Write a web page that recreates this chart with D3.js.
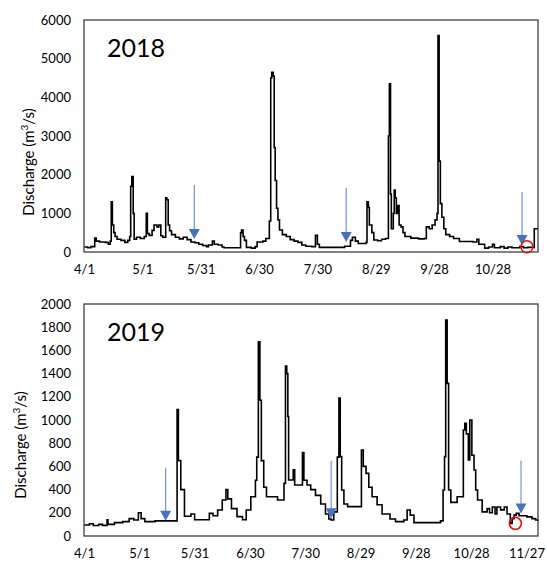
<!DOCTYPE html>
<html>
<head>
<meta charset="utf-8">
<script src="https://cdn.jsdelivr.net/npm/d3@7"></script>
<style>
    body { margin: 0; background: #fff; }
    svg { display: block; font-family: Lato, "Open Sans", sans-serif; }
</style>
</head>
<body>
<svg id="chart" width="547" height="562"></svg>
<script>
// 2018 discharge (m3/s), "month/day hour"
var dates2018 = ["4/1 0", "4/3 0", "4/4 12", "4/6 12", "4/7 7", "4/9 0", "4/12 0", "4/13 12", "4/14 12", "4/15 0",
    "4/15 14", "4/16 7", "4/17 0", "4/18 0", "4/20 0", "4/22 0", "4/23 12", "4/24 12", "4/25 0", "4/25 14",
    "4/26 7", "4/26 19", "4/28 0", "4/30 0", "5/2 0", "5/3 0", "5/3 14", "5/4 12", "5/6 0", "5/7 0",
    "5/8 12", "5/9 12", "5/10 12", "5/11 12", "5/13 0", "5/13 14", "5/14 7", "5/15 0", "5/16 0", "5/18 0",
    "5/20 0", "5/22 0", "5/24 0", "5/26 0", "5/28 0", "5/30 0", "6/1 0", "6/3 0", "6/4 0", "6/6 0",
    "6/7 0", "6/9 0", "6/11 0", "6/12 0", "6/20 12", "6/21 0", "6/21 19", "6/22 12", "6/23 12", "6/26 0",
    "6/28 0", "6/29 0", "7/2 0", "7/3 12", "7/5 7", "7/6 0", "7/6 12", "7/7 7", "7/7 19", "7/8 7",
    "7/9 0", "7/9 17", "7/10 12", "7/12 0", "7/14 0", "7/16 0", "7/18 0", "7/20 0", "7/22 0", "7/24 0",
    "7/27 0", "7/29 0", "7/30 0", "7/31 0", "8/13 0", "8/16 0", "8/17 0", "8/18 12", "8/20 0", "8/24 0",
    "8/24 12", "8/25 5", "8/25 17", "8/27 0", "8/28 0", "8/30 0", "9/1 0", "9/3 0", "9/4 12", "9/5 0",
    "9/5 14", "9/6 0", "9/7 0", "9/7 12", "9/8 0", "9/8 14", "9/9 7", "9/10 0", "9/11 0", "9/12 0",
    "9/13 0", "9/16 0", "9/20 0", "9/23 0", "9/24 0", "9/25 12", "9/27 0", "9/28 12", "9/29 12", "9/30 0",
    "9/30 14", "10/1 5", "10/2 0", "10/3 0", "10/4 0", "10/6 0", "10/8 0", "10/11 0", "10/18 0", "10/20 0",
    "10/21 0", "10/24 0", "10/26 0", "10/28 0", "10/29 0", "11/1 0", "11/3 0", "11/5 0", "11/7 0", "11/11 0",
    "11/13 0", "11/15 0", "11/18 12", "11/20 10"];
var flow2018 = [130, 110, 140, 360, 280, 260, 250, 200, 280, 1300,
    700, 500, 400, 330, 300, 250, 300, 400, 1700, 1950,
    1000, 330, 380, 350, 400, 1000, 480, 430, 560, 700,
    650, 700, 420, 380, 1400, 1350, 700, 550, 450, 380,
    340, 380, 320, 260, 240, 200, 170, 140, 180, 280,
    200, 180, 130, 110, 500, 570, 400, 300, 120, 100,
    140, 260, 280, 350, 800, 4500, 4650, 4550, 2700, 1850,
    1130, 830, 570, 450, 400, 320, 280, 250, 180, 150,
    140, 430, 200, 120, 150, 300, 380, 280, 220, 250,
    1300, 1150, 700, 500, 310, 290, 330, 350, 3000, 4350,
    1500, 600, 1000, 1600, 1400, 1000, 1200, 700, 650, 500,
    400, 360, 340, 350, 650, 600, 700, 830, 1000, 5600,
    2350, 1250, 900, 600, 450, 400, 350, 270, 260, 330,
    200, 100, 130, 200, 110, 140, 100, 130, 110, 140,
    110, 120, 600, 600];

// 2019 discharge
var dates2019 = ["4/1 0", "4/4 0", "4/6 0", "4/9 0", "4/11 0", "4/13 12", "4/14 0", "4/17 12", "4/22 0", "4/25 12",
    "4/28 0", "4/30 12", "5/2 0", "5/4 0", "5/9 12", "5/21 12", "5/22 5", "5/23 12", "5/25 12", "5/29 0",
    "5/31 0", "6/8 0", "6/10 0", "6/12 12", "6/15 0", "6/17 0", "6/18 0", "6/20 0", "6/23 0", "6/26 0",
    "6/28 0", "6/30 12", "7/3 0", "7/3 17", "7/4 14", "7/5 10", "7/6 5", "7/7 12", "7/9 0", "7/15 0",
    "7/18 12", "7/19 7", "7/20 0", "7/20 14", "7/21 0", "7/23 12", "7/24 7", "7/28 12", "7/29 7", "7/31 0",
    "8/2 0", "8/4 14", "8/7 10", "8/10 0", "8/11 19", "8/13 0", "8/14 12", "8/16 10", "8/17 7", "8/18 0",
    "8/18 19", "8/20 0", "8/22 0", "8/29 12", "8/30 12", "9/1 0", "9/2 12", "9/4 7", "9/7 0", "9/9 17",
    "9/14 0", "9/17 0", "9/21 12", "9/23 7", "9/25 0", "9/27 0", "10/11 10", "10/12 19", "10/13 14", "10/14 5",
    "10/15 0", "10/15 19", "10/17 0", "10/20 10", "10/23 19", "10/24 14", "10/25 10", "10/26 12", "10/27 7", "10/28 10",
    "10/29 14", "10/30 12", "10/31 12", "11/3 0", "11/5 17", "11/7 0", "11/8 12", "11/10 0", "11/11 0", "11/13 0",
    "11/15 0", "11/16 12", "11/18 7", "11/19 7", "11/20 7", "11/21 12", "11/23 0", "11/27 7", "11/30 0", "12/2 0",
    "12/3 7"];
var flow2019 = [95, 105, 90, 100, 92, 140, 100, 115, 124, 150,
    138, 200, 150, 124, 130, 1090, 650, 400, 170, 190,
    140, 195, 175, 224, 310, 400, 320, 236, 167, 140,
    224, 339, 480, 680, 1675, 1170, 650, 420, 339, 310,
    454, 1465, 1400, 1030, 483, 570, 440, 720, 480, 440,
    400, 350, 276, 190, 147, 138, 208, 680, 1190, 684,
    397, 276, 253, 741, 600, 540, 420, 339, 270, 190,
    147, 124, 138, 224, 180, 115, 130, 397, 684, 1862,
    1316, 397, 290, 339, 914, 971, 880, 656, 1000, 696,
    569, 397, 310, 208, 236, 200, 250, 190, 250, 225,
    250, 190, 109, 150, 180, 195, 175, 165, 150, 138,
    130];

var ticks2018 = ["4/1", "5/1", "5/31", "6/30", "7/30", "8/29", "9/28", "10/28"];
var ticks2019 = ["4/1", "5/1", "5/31", "6/30", "7/30", "8/29", "9/28", "10/28", "11/27"];

// blue arrows: date, value at the tip, value at the tail
var arrowDates2018 = ["5/27 17", "8/13 19", "11/12 5"];
var arrowTips2018 = [336, 259, 181];
var arrowTails2018 = [1733, 1655, 1552];
var arrowDates2019 = ["5/15 7", "8/13 2", "11/24 2"];
var arrowTips2019 = [132, 152, 195];
var arrowTails2019 = [589, 649, 649];

// red circles
var circleDate2018 = "11/14 17", circleFlow2018 = 137;
var circleDate2019 = "11/21 0", circleFlow2019 = 109;

var svg = d3.select("#chart");

function drawPanel(opt) {
    var parse = d3.timeParse("%Y/%m/%d %H");
    var parseDay = d3.timeParse("%Y/%m/%d");
    var data = opt.dates.map(function (d, i) {
        return { date: parse(opt.year + "/" + d), q: opt.flow[i] };
    });

    var x = d3.scaleTime()
        .domain([parseDay(opt.year + "/4/1"), parse(opt.year + "/" + opt.dates[opt.dates.length - 1])])
        .range([opt.left, opt.right]);

    var y = d3.scaleLinear()
        .domain([0, opt.yMax])
        .range([opt.bottom, opt.top]);

    var g = svg.append("g");

    // y ticks
    var ya = g.append("g")
        .attr("transform", "translate(" + 71 + ",0)")
        .call(d3.axisLeft(y)
            .tickValues(d3.range(0, opt.yMax + 1, opt.yStep))
            .tickFormat(d3.format("d"))
            .tickSize(0)
            .tickPadding(0));
    ya.select(".domain").remove();
    ya.selectAll("text").attr("fill", "#000").style("font-size", "13px").style("font-family", "Lato, sans-serif");

    // x ticks
    var xa = g.append("g")
        .attr("transform", "translate(0," + opt.bottom + ")")
        .call(d3.axisBottom(x)
            .tickValues(opt.ticks.map(function (t) { return parseDay(opt.year + "/" + t); }))
            .tickFormat(d3.timeFormat("%-m/%-d"))
            .tickSize(0)
            .tickPadding(13));
    xa.select(".domain").remove();
    xa.selectAll("text").attr("fill", "#000").style("font-size", "13px").style("font-family", "Lato, sans-serif");

    // line
    var line = d3.line()
        .curve(d3.curveStepAfter)
        .x(function (d) { return x(d.date); })
        .y(function (d) { return y(d.q); });

    g.append("path")
        .datum(data)
        .attr("fill", "none")
        .attr("stroke", "#000")
        .attr("stroke-width", 1.6)
        .attr("d", line);

    // plot frame
    g.append("rect")
        .attr("x", opt.left)
        .attr("y", opt.top)
        .attr("width", opt.right - opt.left)
        .attr("height", opt.bottom - opt.top)
        .attr("fill", "none")
        .attr("stroke", "#404040")
        .attr("stroke-width", 1.3);

    // year label
    g.append("text")
        .attr("x", 107)
        .attr("y", opt.top + 37)
        .style("font-size", "25px")
        .attr("fill", "#000")
        .text(opt.year);

    // axis title
    var t = g.append("text")
        .attr("transform", "translate(" + opt.titleX + "," + opt.titleY + ") rotate(-90)")
        .attr("text-anchor", "middle")
        .style("font-size", "15px")
        .attr("fill", "#000");
    t.append("tspan").text("Discharge (m");
    t.append("tspan").attr("dy", -6).style("font-size", "10px").text("3");
    t.append("tspan").attr("dy", 6).text("/s)");

    // arrows
    opt.arrowDates.forEach(function (d, i) {
        var ax = x(parse(opt.year + "/" + d)),
            tip = y(opt.arrowTips[i]),
            tail = y(opt.arrowTails[i]);
        g.append("line")
            .attr("x1", ax).attr("x2", ax)
            .attr("y1", tail).attr("y2", tip - 9)
            .attr("stroke", "#7096d6")
            .attr("stroke-width", 1.2);
        g.append("path")
            .attr("d", "M" + (ax - 5.5) + "," + (tip - 10) + "L" + (ax + 5.5) + "," + (tip - 10) + "L" + ax + "," + tip + "Z")
            .attr("fill", "#4472c4");
    });

    // red circle
    g.append("circle")
        .attr("cx", x(parse(opt.year + "/" + opt.circleDate)))
        .attr("cy", y(opt.circleFlow))
        .attr("r", 6)
        .attr("fill", "none")
        .attr("stroke", "#ff0000")
        .attr("stroke-width", 1.5);
}

drawPanel({
    year: 2018, dates: dates2018, flow: flow2018, ticks: ticks2018,
    yMax: 6000, yStep: 1000,
    left: 84, right: 538, top: 20, bottom: 252,
    titleX: 34, titleY: 162,
    arrowDates: arrowDates2018, arrowTips: arrowTips2018, arrowTails: arrowTails2018,
    circleDate: circleDate2018, circleFlow: circleFlow2018
});

drawPanel({
    year: 2019, dates: dates2019, flow: flow2019, ticks: ticks2019,
    yMax: 2000, yStep: 200,
    left: 84, right: 538, top: 304, bottom: 536,
    titleX: 26, titleY: 445,
    arrowDates: arrowDates2019, arrowTips: arrowTips2019, arrowTails: arrowTails2019,
    circleDate: circleDate2019, circleFlow: circleFlow2019
});
</script>
</body>
</html>
